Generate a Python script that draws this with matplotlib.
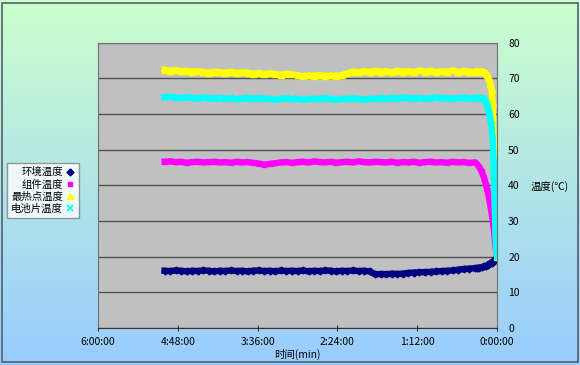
import numpy as np
import matplotlib.pyplot as plt
from matplotlib.patches import Rectangle

plt.rcParams['font.family'] = ['Noto Sans CJK SC', 'DejaVu Sans']

# 时间 (min)
times = [0, 1, 2, 3, 4, 5, 6, 7, 8, 9, 10, 12, 14, 16, 18, 20,
         25, 30, 35, 40, 45, 50, 55, 60, 65, 70, 75, 80, 85, 90, 95, 100,
         105, 110, 115, 120, 125, 130, 135, 140, 145, 150, 155, 160, 165, 170, 175, 180,
         185, 190, 195, 200, 205, 210, 215, 220, 225, 230, 235, 240, 245, 250, 255, 260,
         265, 270, 275, 280, 285, 290, 295, 300]

# 环境温度
ambient = [20.0, 19.5, 19.1, 18.8, 18.5, 18.3, 18.1, 17.9, 17.7, 17.5, 17.4, 17.2, 17.0, 16.9, 16.8, 16.7,
           16.6, 16.5, 16.3, 16.1, 16.0, 15.9, 15.8, 15.7, 15.6, 15.6, 15.5, 15.4, 15.2, 15.1, 15.2, 15.0,
           15.1, 15.0, 15.8, 16.0, 15.9, 16.1, 15.9, 16.0, 15.8, 16.0, 16.1, 15.9, 16.0, 15.8, 16.1, 15.9,
           16.0, 15.9, 16.1, 15.8, 16.0, 15.9, 16.1, 16.0, 15.8, 16.0, 15.9, 16.1, 15.9, 16.0, 15.8, 16.0,
           16.1, 15.9, 16.0, 15.8, 16.0, 16.1, 15.9, 16.0]

# 组件温度
module = [20.0, 22.0, 25.0, 27.8, 30.2, 32.4, 34.3, 36.0, 37.5, 38.9, 40.2, 42.3, 43.9, 45.1, 45.9, 46.4,
          46.3, 46.5, 46.4, 46.6, 46.3, 46.5, 46.4, 46.6, 46.5, 46.3, 46.6, 46.4, 46.5, 46.3, 46.6, 46.4,
          46.5, 46.6, 46.4, 46.5, 46.7, 46.4, 46.6, 46.5, 46.3, 46.6, 46.4, 46.5, 46.7, 46.4, 46.6, 46.5,
          46.3, 46.5, 46.4, 46.2, 46.0, 45.8, 46.1, 46.3, 46.5, 46.4, 46.6, 46.3, 46.5, 46.4, 46.6, 46.5,
          46.4, 46.6, 46.5, 46.3, 46.6, 46.5, 46.7, 46.6]

# 最热点温度
hotspot = [20.0, 26.0, 38.0, 52.0, 63.0, 67.0, 68.5, 69.6, 70.4, 71.0, 71.4, 71.8, 72.0, 71.7, 72.1, 71.8,
           71.9, 72.1, 71.8, 72.2, 71.9, 72.0, 71.7, 72.1, 71.9, 72.2, 71.8, 72.0, 71.9, 72.1, 71.7, 72.0,
           71.9, 72.1, 71.8, 72.0, 71.7, 71.9, 71.4, 70.9, 70.7, 70.8, 70.6, 70.9, 70.7, 70.8, 70.6, 70.9,
           71.1, 71.3, 71.0, 71.2, 71.4, 71.2, 71.5, 71.3, 71.6, 71.7, 71.5, 71.8, 71.6, 71.7, 71.9, 71.6,
           71.8, 72.0, 71.9, 72.1, 72.0, 72.3, 72.1, 72.4]

# 电池片温度
cell = [20.0, 24.0, 33.0, 46.0, 53.0, 56.5, 58.8, 60.5, 61.7, 62.6, 63.3, 64.1, 64.5, 64.3, 64.6, 64.4,
        64.3, 64.6, 64.4, 64.2, 64.5, 64.3, 64.6, 64.4, 64.2, 64.5, 64.3, 64.4, 64.6, 64.3, 64.5, 64.2,
        64.4, 64.1, 64.3, 64.0, 64.2, 64.4, 64.1, 64.3, 64.0, 64.2, 64.4, 64.1, 64.3, 64.2, 64.0, 64.3,
        64.1, 64.4, 64.2, 64.0, 64.3, 64.1, 64.4, 64.2, 64.5, 64.3, 64.1, 64.4, 64.2, 64.5, 64.3, 64.4,
        64.6, 64.3, 64.5, 64.7, 64.4, 64.6, 64.8, 64.7]

x_ticks = [0, 72, 144, 216, 288, 360]
x_labels = ['0:00:00', '1:12:00', '2:24:00', '3:36:00', '4:48:00', '6:00:00']
y_ticks = [0, 10, 20, 30, 40, 50, 60, 70, 80]

fig = plt.figure(figsize=(5.8, 3.65), dpi=100)

# 渐变背景
bg = fig.add_axes([0, 0, 1, 1], zorder=-10)
top = np.array([204, 255, 204]) / 255
bottom = np.array([153, 204, 255]) / 255
frac = np.linspace(0, 1, 256)[:, None]
grad = top * (1 - frac) + bottom * frac
bg.imshow(grad[:, None, :], aspect='auto', extent=[0, 1, 0, 1])
bg.set_axis_off()
fig.patches.append(Rectangle((0.004, 0.007), 0.992, 0.985, transform=fig.transFigure,
                             fill=False, edgecolor='#50606e', lw=1.2))

ax = fig.add_axes([0.169, 0.102, 0.688, 0.781])
ax.set_facecolor('#c0c0c0')

ax.plot(times, ambient, color='#000080', lw=4.6, marker='D', ms=3.5, label='环境温度')
ax.plot(times, module, color='#ff00ff', lw=4.6, marker='s', ms=3.5, label='组件温度')
ax.plot(times, hotspot, color='#ffff00', lw=4.6, marker='^', ms=4, label='最热点温度')
ax.plot(times, cell, color='#00ffff', lw=4.6, marker='x', ms=4, mew=1.2, label='电池片温度')

ax.set_xlim(360, 0)
ax.set_ylim(0, 80)
ax.set_xticks(x_ticks)
ax.set_xticklabels(x_labels)
ax.set_yticks(y_ticks)
ax.yaxis.tick_right()
ax.tick_params(axis='x', direction='inout', length=4, labelsize=7.5, pad=5, color='#333333')
ax.tick_params(axis='y', length=0, labelsize=7.5, pad=8)
ax.yaxis.grid(True, color='#505050', lw=1)
ax.set_axisbelow(True)
for s in ax.spines.values():
    s.set_color('#707070')
ax.spines['bottom'].set_color('#333333')

fig.text(0.948, 0.488, '温度(℃)', ha='center', va='center', fontsize=7.5)
fig.text(0.513, 0.028, '时间(min)', ha='center', va='center', fontsize=7.5)

leg = ax.legend(loc='upper left', bbox_to_anchor=(0.012, 0.554), bbox_transform=fig.transFigure,
                borderaxespad=0, markerfirst=False, fontsize=7.5, frameon=True, fancybox=False,
                handlelength=0.8, handletextpad=0.3, labelspacing=0.2, borderpad=0.4)
leg.get_frame().set_edgecolor('#808080')
leg.get_frame().set_linewidth(1)
for h in leg.legend_handles:
    h.set_linestyle('none')

fig.savefig('out.png', dpi=100)
